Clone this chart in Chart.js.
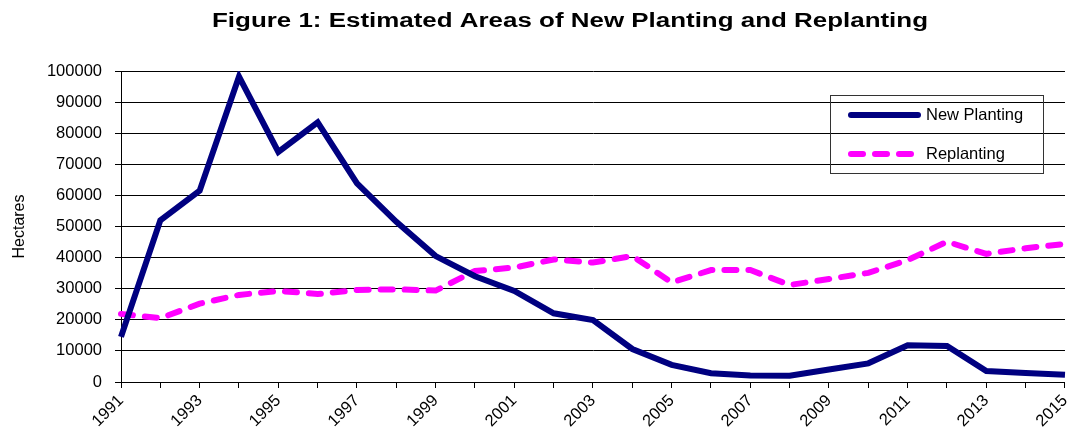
<!DOCTYPE html>
<html>
<head>
<meta charset="utf-8">
<script src="https://cdn.jsdelivr.net/npm/chart.js@4"></script>
<style>
html,body{margin:0;padding:0;background:#fff;}
#wrap{width:1082px;height:432px;position:relative;}
</style>
</head>
<body>
<div id="wrap"><canvas id="c" width="1082" height="432"></canvas></div>
<script>
const titleText = 'Figure 1: Estimated Areas of New Planting and Replanting';
const years = ['1991','1992','1993','1994','1995','1996','1997','1998','1999','2000','2001','2002','2003','2004','2005','2006','2007','2008','2009','2010','2011','2012','2013','2014','2015'];
const newPlanting = [14500,52000,61500,98200,74000,83500,63900,51500,40500,34000,29300,22100,19900,10600,5500,2800,2100,2000,4000,6000,11800,11600,3500,2900,2300];
const replanting = [21900,20500,25200,28000,29300,28300,29600,29800,29400,35700,36800,39400,38400,40500,32000,36000,36000,31200,33100,35100,39200,45100,41200,43000,44400];
const yTicks = [0,10000,20000,30000,40000,50000,60000,70000,80000,90000,100000];
const seriesNames = ['New Planting','Replanting'];

const FONT = '"Liberation Sans", Arial, sans-serif';

const overlay = {
  id: 'overlay',
  afterDraw(chart) {
    const ctx = chart.ctx;
    ctx.save();
    // title (horizontally stretched like the reference)
    ctx.font = 'bold 20px ' + FONT;
    ctx.fillStyle = '#000';
    ctx.textBaseline = 'alphabetic';
    ctx.textAlign = 'left';
    const w0 = ctx.measureText(titleText).width;
    const target = 716;
    ctx.translate(212, 27);
    ctx.scale(target / w0, 1);
    ctx.fillText(titleText, 0, 0);
    ctx.restore();
    ctx.save();
    // legend box
    const bx = 830.5, by = 95.5, bw = 213, bh = 78;
    ctx.strokeStyle = '#333';
    ctx.lineWidth = 1;
    ctx.strokeRect(bx, by, bw, bh);
    const ds = chart.data.datasets;
    const rows = [115, 154];
    ds.forEach((d, i) => {
      ctx.beginPath();
      ctx.strokeStyle = d.borderColor;
      ctx.lineWidth = d.borderWidth;
      ctx.lineCap = 'round';
      ctx.setLineDash(d.borderDash || []);
      ctx.moveTo(851, rows[i]);
      ctx.lineTo(918, rows[i]);
      ctx.stroke();
      ctx.setLineDash([]);
      ctx.fillStyle = '#000';
      ctx.font = '16.5px ' + FONT;
      ctx.textBaseline = 'middle';
      ctx.textAlign = 'left';
      ctx.fillText(d.label, 926, rows[i]);
    });
    ctx.restore();
  }
};

new Chart(document.getElementById('c'), {
  type: 'line',
  data: {
    labels: years,
    datasets: [
      {
        label: seriesNames[0],
        data: newPlanting,
        borderColor: '#000080',
        backgroundColor: '#000080',
        borderWidth: 6,
        pointRadius: 0,
        tension: 0,
        borderCapStyle: 'butt',
        borderJoinStyle: 'miter'
      },
      {
        label: seriesNames[1],
        data: replanting,
        borderColor: '#FF00FF',
        backgroundColor: '#FF00FF',
        borderWidth: 6,
        borderDash: [12, 12],
        borderCapStyle: 'round',
        pointRadius: 0,
        tension: 0
      }
    ]
  },
  options: {
    responsive: false,
    animation: false,
    devicePixelRatio: 1,
    layout: { padding: { top: 71, right: 4, left: 0, bottom: 0 } },
    plugins: {
      legend: { display: false },
      title: { display: false },
      tooltip: { enabled: false }
    },
    scales: {
      x: {
        type: 'category',
        offset: false,
        afterFit(s) { s.height = 50; },
        grid: { display: true, drawOnChartArea: false, drawTicks: true, tickLength: 6, color: '#000', lineWidth: 1 },
        border: { display: true, color: '#000', width: 1 },
        ticks: {
          autoSkip: false,
          maxRotation: 45,
          minRotation: 45,
          padding: 3,
          color: '#000',
          font: { family: FONT, size: 16.5 },
          callback(v, i) { return (i % 2 === 0) ? years[i] : ''; }
        }
      },
      y: {
        min: 0,
        max: 100000,
        afterFit(s) { s.width = 121; },
        afterBuildTicks(s) { s.ticks = yTicks.map(v => ({ value: v })); },
        grid: { display: true, drawOnChartArea: true, drawTicks: true, tickLength: 6, color: '#000', lineWidth: 1 },
        border: { display: true, color: '#000', width: 1 },
        title: { display: true, text: 'Hectares', color: '#000', font: { family: FONT, size: 16 }, padding: { top: 10, bottom: 0 } },
        ticks: {
          padding: 13,
          color: '#000',
          font: { family: FONT, size: 16.5 },
          callback(v) { return String(v); }
        }
      }
    }
  },
  plugins: [overlay]
});
</script>
</body>
</html>
